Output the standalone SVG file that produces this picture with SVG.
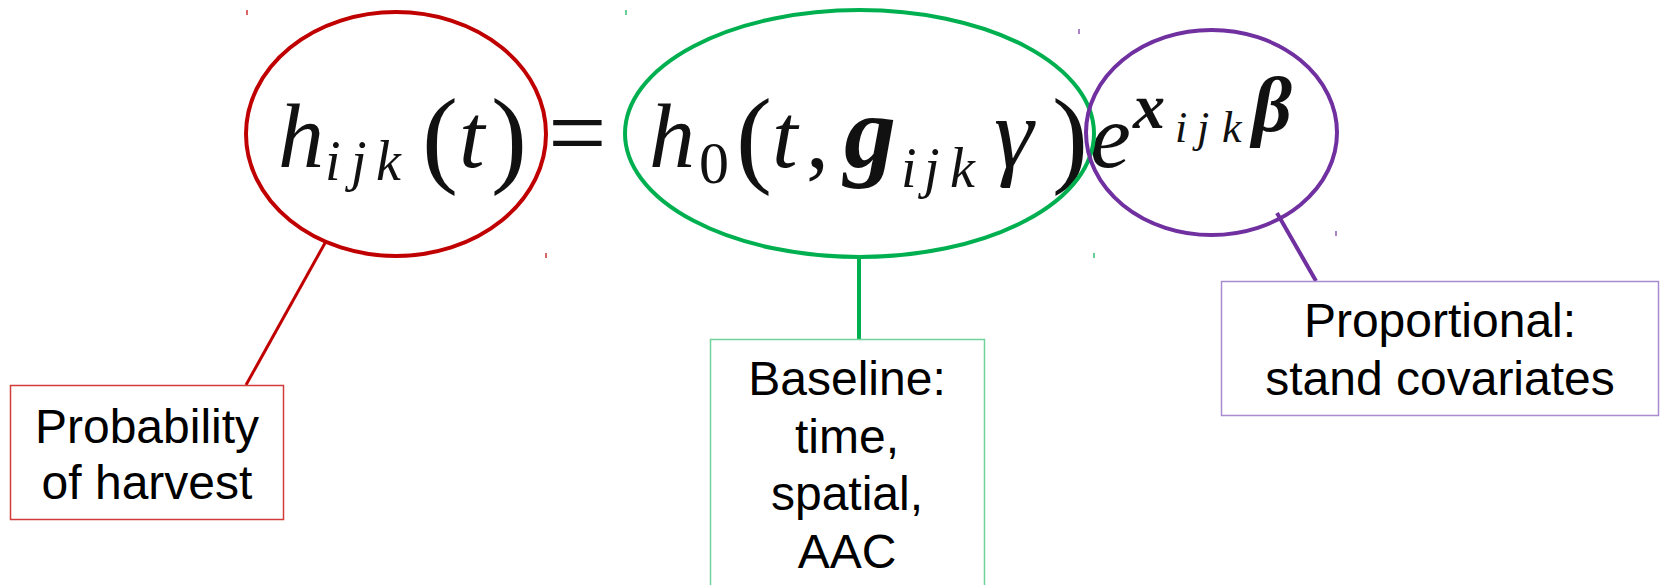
<svg xmlns="http://www.w3.org/2000/svg" width="1660" height="585" viewBox="0 0 1660 585">
<style>
.m{font-family:"Liberation Serif","Times New Roman",serif;fill:#111}
.i{font-style:italic}
.b{font-weight:bold}
.lbl{font-family:"Liberation Sans",Arial,sans-serif;font-size:48px;fill:#000;text-anchor:middle}
.ell{fill:none;stroke-width:4}
.box{fill:#fff;stroke-width:1.5}
.tick{stroke-width:1.2}
</style>
<rect width="1660" height="585" fill="#fff"/>
<g id="formula">
<text class="m i" x="278" y="167" font-size="92">h</text>
<text class="m i" y="180" font-size="56"><tspan x="325">i</tspan><tspan x="351">j</tspan><tspan x="376">k</tspan></text>
<text class="m" x="422" y="173" font-size="108">(</text>
<text class="m i" x="459" y="167" font-size="92">t</text>
<text class="m" x="491" y="173" font-size="108">)</text>
<text class="m" x="548" y="168" font-size="104">=</text>
<text class="m i" x="649" y="167" font-size="92">h</text>
<text class="m" x="699" y="183" font-size="60">0</text>
<text class="m" x="736" y="173" font-size="108">(</text>
<text class="m i" x="772" y="167" font-size="92">t</text>
<text class="m" x="806" y="167" font-size="92">,</text>
<text class="m i b" x="844" y="167" font-size="104">g</text>
<text class="m i" y="187" font-size="56"><tspan x="901">i</tspan><tspan x="924">j</tspan><tspan x="950">k</tspan></text>
<text class="m i" x="994" y="167" font-size="100">γ</text>
<text class="m" x="1052" y="173" font-size="108">)</text>
<text class="m i" x="1090" y="167" font-size="92">e</text>
<text class="m i b" x="1133" y="128" font-size="64">x</text>
<text class="m i" y="142" font-size="44"><tspan x="1175">i</tspan><tspan x="1197">j</tspan><tspan x="1222">k</tspan></text>
<text class="m i b" x="1252" y="131" font-size="78">β</text>
</g>
<g id="connectors">
<line x1="325" y1="243" x2="246" y2="385" stroke="#C00000" stroke-width="3"/>
<line x1="859" y1="257" x2="859" y2="339" stroke="#00B050" stroke-width="4"/>
<line x1="1277" y1="213" x2="1316" y2="281" stroke="#7030A0" stroke-width="4"/>
</g>
<g id="hazard">
<ellipse class="ell" cx="396" cy="134" rx="150" ry="122" stroke="#C00000"/>
<line class="tick" x1="247" y1="10" x2="247" y2="15" stroke="#C00000"/>
<line class="tick" x1="546" y1="253" x2="546" y2="258" stroke="#C00000"/>
</g>
<g id="baseline-term">
<ellipse class="ell" cx="859.5" cy="133.5" rx="234.5" ry="123.5" stroke="#00B050"/>
<line class="tick" x1="626" y1="10" x2="626" y2="15" stroke="#00B050"/>
<line class="tick" x1="1094" y1="253" x2="1094" y2="258" stroke="#00B050"/>
</g>
<g id="proportional-term">
<ellipse class="ell" cx="1211.5" cy="132.5" rx="125.5" ry="102.5" stroke="#7030A0"/>
<line class="tick" x1="1079" y1="29" x2="1079" y2="34" stroke="#7030A0"/>
<line class="tick" x1="1336" y1="231" x2="1336" y2="236" stroke="#7030A0"/>
</g>
<g id="label-probability">
<rect class="box" x="10.5" y="385.5" width="273" height="134" stroke="#D23B3B"/>
<text class="lbl" x="147" y="443">Probability</text>
<text class="lbl" x="147" y="499">of harvest</text>
</g>
<g id="label-baseline">
<rect class="box" x="710.5" y="339.5" width="274" height="260" stroke="#6FD39B"/>
<text class="lbl" x="847" y="395">Baseline:</text>
<text class="lbl" x="847" y="453">time,</text>
<text class="lbl" x="847" y="510">spatial,</text>
<text class="lbl" x="847" y="568">AAC</text>
</g>
<g id="label-proportional">
<rect class="box" x="1221.5" y="281.5" width="437" height="134" stroke="#A98BCF"/>
<text class="lbl" x="1440" y="337">Proportional:</text>
<text class="lbl" x="1440" y="395">stand covariates</text>
</g>
</svg>
